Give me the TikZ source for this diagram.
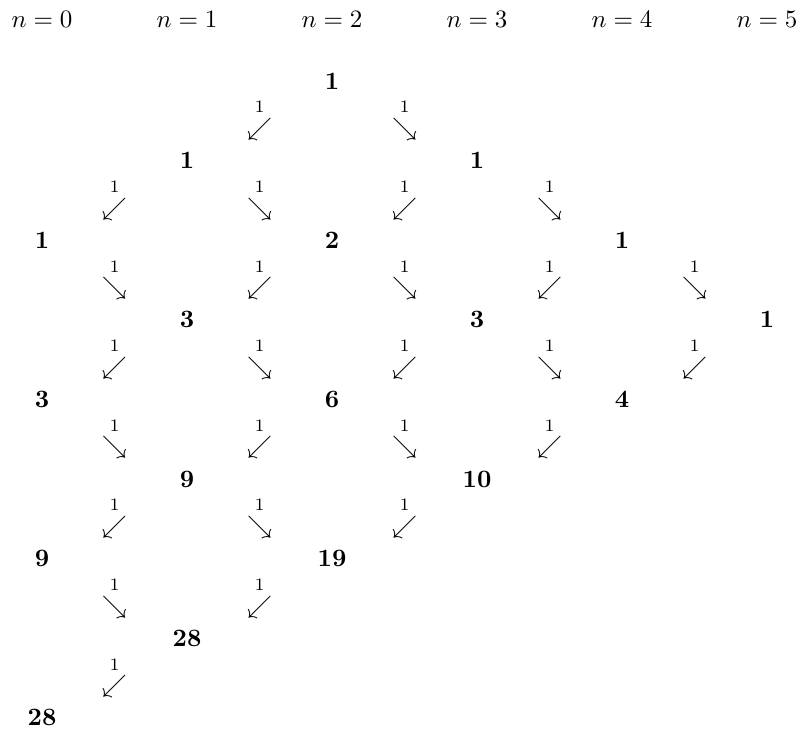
\documentclass[tikz,border=0pt]{standalone}
\usepackage{amsmath}
\usetikzlibrary{calc}
\begin{document}
\begin{tikzpicture}[x=0.4pt,y=-0.4pt,
  num/.style={font=\bfseries, inner sep=0pt},
  hdr/.style={inner sep=0pt},
  arr/.style={inner sep=0pt},
  lab/.style={inner sep=0pt}]
\useasboundingbox (0,0) rectangle (802,733);
\foreach \c in {0,...,5}
  \node[hdr] (h\c) at (42+145*\c,19.5) {$n=\c$};
\foreach \c/\r/\v in {2/0/1,
  1/1/1, 3/1/1,
  0/2/1, 2/2/2, 4/2/1,
  1/3/3, 3/3/3, 5/3/1,
  0/4/3, 2/4/6, 4/4/4,
  1/5/9, 3/5/10,
  0/6/9, 2/6/19,
  1/7/28,
  0/8/28}
  \node[num] (v\c\r) at (42+145*\c, 81+79.6*\r) {\v};
\foreach \a/\b/\g in {20/11/\swarrow, 20/31/\searrow,
  11/02/\swarrow, 11/22/\searrow, 31/22/\swarrow, 31/42/\searrow,
  02/13/\searrow, 22/13/\swarrow, 22/33/\searrow, 42/33/\swarrow, 42/53/\searrow,
  13/04/\swarrow, 13/24/\searrow, 33/24/\swarrow, 33/44/\searrow, 53/44/\swarrow,
  04/15/\searrow, 24/15/\swarrow, 24/35/\searrow, 44/35/\swarrow,
  15/06/\swarrow, 15/26/\searrow, 35/26/\swarrow,
  06/17/\searrow, 26/17/\swarrow,
  17/08/\swarrow}
{
  \node[arr] (e\a\b) at ($(v\a)!0.5!(v\b)+(0,8.5)$) {$\g$};
  \node[lab] (l\a\b) at ($(v\a)!0.5!(v\b)+(0,-13.5)$) {$\scriptstyle 1$};
}
\end{tikzpicture}
\end{document}
